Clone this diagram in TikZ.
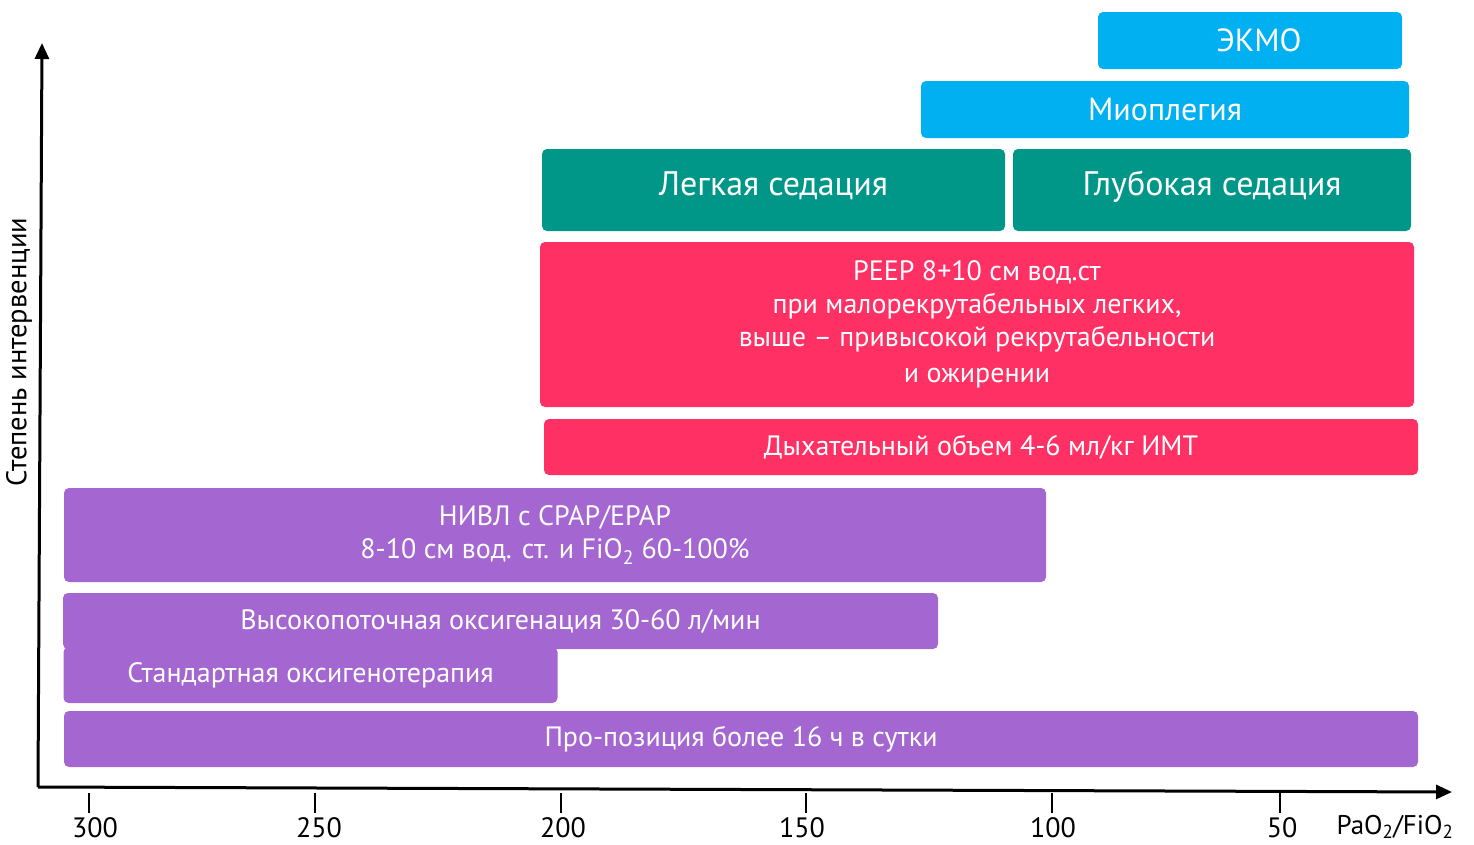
\documentclass[tikz,border=0pt]{standalone}
\usepackage{fontspec}
\setmainfont{PT Sans}
\usetikzlibrary{arrows.meta}
\definecolor{ccyan}{RGB}{0,176,240}
\definecolor{cteal}{RGB}{0,150,136}
\definecolor{cpink}{RGB}{255,48,100}
\definecolor{cpurple}{RGB}{164,102,209}
\tikzset{
  bar/.style={fill=#1, rounded corners=5pt, text=white, inner sep=0pt, align=center,
    font=\fontsize{28}{33}\selectfont},
  bigtxt/.style={font=\fontsize{32}{36}\selectfont},
  axis/.style={line width=3pt, -{Triangle[length=16pt,width=14pt]}},
  tick/.style={line width=2pt},
  ticklab/.style={font=\fontsize{28}{30}\selectfont, inner sep=0pt, text depth=0pt},
}
\begin{document}
\begin{tikzpicture}[x=1pt,y=-1pt]
\useasboundingbox (0,0) rectangle (1474,844);
% bars
\node[bar=ccyan, bigtxt, minimum width=304pt, minimum height=57pt] (ekmo) at (1250,40.5) {\hspace*{18pt}ЭКМО};
\node[bar=ccyan, bigtxt, minimum width=488pt, minimum height=57pt] (mio) at (1165,109.5) {Миоплегия};
\node[bar=cteal, font=\fontsize{34}{38}\selectfont, minimum width=463pt, minimum height=82pt] (legk) at (773.5,190) {\raisebox{13pt}{Легкая седация}};
\node[bar=cteal, font=\fontsize{34}{38}\selectfont, minimum width=398pt, minimum height=82pt] (glub) at (1212,190) {\raisebox{13pt}{Глубокая седация}};
\node[bar=cpink, minimum width=874pt, minimum height=165pt] (peep) at (977,324.5)
  {PEEP 8+10 см вод.ст\\при малорекрутабельных легких,\\выше – привысокой рекрутабельности\\[3pt]и ожирении};
\node[bar=cpink, minimum width=874pt, minimum height=56pt] (dyh) at (981,447) {Дыхательный объем 4-6 мл/кг ИМТ};
\node[bar=cpurple, minimum width=982pt, minimum height=94pt] (nivl) at (555,535)
  {НИВЛ с CPAP/EPAP\\8-10 см вод. ст. и FiO\textsubscript{2} 60-100\%};
\node[bar=cpurple, minimum width=494pt, minimum height=56pt] (stand) at (310.5,675) {Стандартная оксигенотерапия};
\node[bar=cpurple, minimum width=875pt, minimum height=56pt] (vys) at (500.5,621) {Высокопоточная оксигенация 30-60 л/мин};
\node[bar=cpurple, minimum width=1354pt, minimum height=56pt] (pron) at (741,739) {Про-позиция более 16 ч в сутки};
% axes
\coordinate (O) at (38,787);
\coordinate (ytop) at (42,43);
\coordinate (xend) at (1452,792);
\draw[axis] (O) -- (ytop);
\draw[axis] (O) -- (xend);
\node[rotate=90, font=\fontsize{28.5}{30}\selectfont, inner sep=0pt] (ylab) at (19,352) {Степень интервенции};
% ticks
\foreach \x/\lab/\lx [count=\i] in {89/300/95, 315/250/319, 561/200/563, 806/150/802, 1052/100/1053, 1280/50/1282}{
  \coordinate (t\i a) at (\x,793);
  \coordinate (t\i b) at (\x,813);
  \draw[tick] (t\i a) -- (t\i b);
  \node[ticklab] (l\i) at (\lx,828) {\lab};
}
\node[font=\fontsize{27}{30}\selectfont, inner sep=0pt, anchor=base] (ratio) at (1395,834) {PaO\textsubscript{2}/FiO\textsubscript{2}};
\end{tikzpicture}
\end{document}
